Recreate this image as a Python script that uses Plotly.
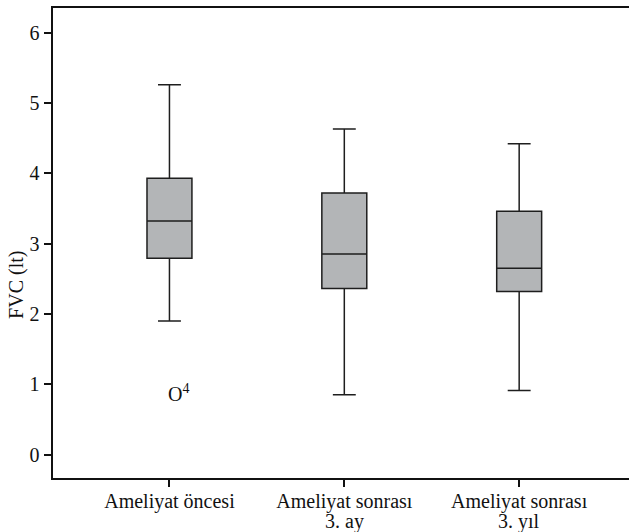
import plotly.graph_objects as go

categories = ["Ameliyat öncesi", "Ameliyat sonrası 3. ay", "Ameliyat sonrası 3. yıl"]
tick_line1 = ["Ameliyat öncesi", "Ameliyat sonrası", "Ameliyat sonrası"]
tick_line2 = ["", "3. ay", "3. yıl"]
lower_whisker = [1.90, 0.85, 0.91]
q1 = [2.79, 2.36, 2.32]
median = [3.32, 2.85, 2.65]
q3 = [3.93, 3.72, 3.46]
upper_whisker = [5.26, 4.63, 4.42]
outlier_values = [0.88]
outlier_labels = ["4"]
outlier_category = [categories[0]]
y_ticks = [0, 1, 2, 3, 4, 5, 6]
y_title = "FVC (lt)"

FONT = "Liberation Serif"
FS = 20

fig = go.Figure()
fig.add_trace(go.Box(
    x=categories,
    q1=q1,
    median=median,
    q3=q3,
    lowerfence=lower_whisker,
    upperfence=upper_whisker,
    fillcolor="#b3b5b7",
    line=dict(color="#1e1e1e", width=1.5),
    width=0.257,
    whiskerwidth=0.51,
    boxpoints=False,
    hoverinfo="skip",
    showlegend=False,
))

for cat, val, lab in zip(outlier_category, outlier_values, outlier_labels):
    fig.add_annotation(
        x=cat, y=val, xref="x", yref="y",
        text="O<sup>" + lab + "</sup>",
        showarrow=False, xanchor="left", yanchor="middle",
        xshift=-3,
        font=dict(family=FONT, size=FS, color="#111"),
    )

# second line of the category labels (tighter line spacing than Plotly's <br>)
for cat, txt in zip(categories, tick_line2):
    if txt:
        fig.add_annotation(
            x=cat, y=0, xref="x", yref="paper",
            text=txt, showarrow=False,
            xanchor="center", yanchor="middle", yshift=-43,
            font=dict(family=FONT, size=FS, color="#111"),
        )

# y-axis title (placed slightly below the axis centre, as in the reference)
fig.add_annotation(
    x=-0.062, y=0.41, xref="paper", yref="paper",
    text=y_title, textangle=-90, showarrow=False,
    xanchor="center", yanchor="middle",
    font=dict(family=FONT, size=FS, color="#111"),
)

fig.update_layout(
    width=640, height=532,
    margin=dict(l=52.5, r=0, t=8, b=53.5, autoexpand=False),
    paper_bgcolor="white", plot_bgcolor="white",
    font=dict(family=FONT, size=FS, color="#111"),
    showlegend=False,
)
fig.update_xaxes(
    type="category",
    categoryorder="array", categoryarray=categories,
    tickvals=categories, ticktext=tick_line1,
    range=[-0.666, 2.691],
    showline=True, linecolor="#111", linewidth=2, mirror=True,
    ticks="outside", ticklen=7, tickwidth=1.5, tickcolor="#111",
    ticklabelstandoff=-3,
    showgrid=False, zeroline=False, automargin=False,
    tickfont=dict(family=FONT, size=FS, color="#111"),
)
fig.update_yaxes(
    range=[-0.334, 6.35],
    tickvals=y_ticks,
    showline=True, linecolor="#111", linewidth=2, mirror=False,
    ticks="outside", ticklen=7.5, tickwidth=1.5, tickcolor="#111",
    showgrid=False, zeroline=False, automargin=False,
    tickfont=dict(family=FONT, size=FS, color="#111"),
)

fig.write_html(
    "out.html",
    config={"displayModeBar": False},
    post_script="document.body.style.margin='0';document.body.style.overflow='hidden';",
)
